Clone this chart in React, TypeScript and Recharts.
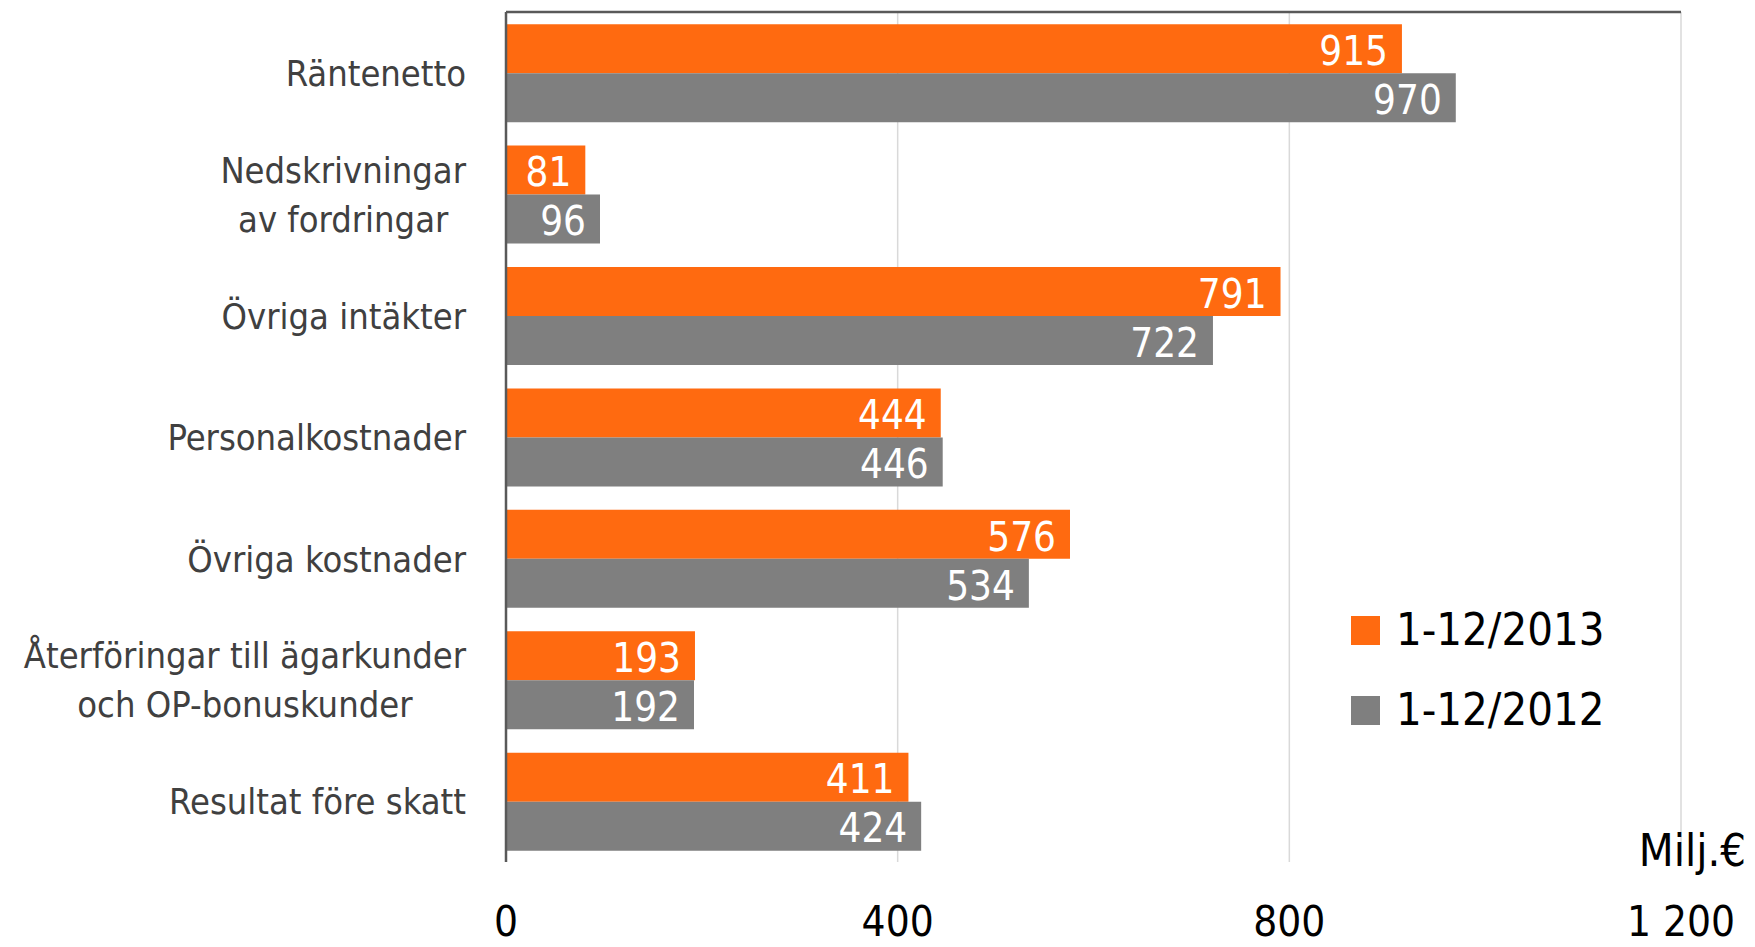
import React from 'react';
import { BarChart, Bar, XAxis, YAxis, CartesianGrid, LabelList, Legend, Label } from 'recharts';

const categories = [
  'Räntenetto',
  'Nedskrivningar\nav fordringar',
  'Övriga intäkter',
  'Personalkostnader',
  'Övriga kostnader',
  'Återföringar till ägarkunder\noch OP-bonuskunder',
  'Resultat före skatt',
];
const series2013 = [915, 81, 791, 444, 576, 193, 411];
const series2012 = [970, 96, 722, 446, 534, 192, 424];
const xTicks = [0, 400, 800, 1200];
const seriesNames = ['1-12/2013', '1-12/2012'];
const seriesColors = ['#FF6A10', '#7F7F7F'];
const unitLabel = 'Milj.€';

const data = categories.map((name, i) => ({
  name,
  y2013: series2013[i],
  y2012: series2012[i],
}));

const FONT = "'DejaVu Sans Condensed', 'Liberation Sans Narrow', 'DejaVu Sans', sans-serif";
const CAT_SIZE = 36;

let measureCtx: CanvasRenderingContext2D | null = null;
function measure(text: string): number {
  if (!measureCtx) {
    const c = document.createElement('canvas');
    measureCtx = c.getContext('2d');
  }
  if (!measureCtx) return text.length * CAT_SIZE * 0.5;
  measureCtx.font = `${CAT_SIZE}px ${FONT}`;
  return measureCtx.measureText(text).width;
}

const CategoryTick = (props: any) => {
  const { x, y, payload } = props;
  const lines: string[] = String(payload.value).split('\n');
  const lineH = 49;
  const cap = CAT_SIZE * 0.365;
  if (lines.length === 1) {
    return (
      <text x={x} y={y + cap} textAnchor="end" fill="#404040" fontSize={CAT_SIZE} fontFamily={FONT}>
        {lines[0]}
      </text>
    );
  }
  const widths = lines.map(measure);
  const maxW = Math.max(...widths);
  const cx = x - maxW / 2;
  const startY = y - ((lines.length - 1) * lineH) / 2 + cap;
  return (
    <g>
      {lines.map((l, i) => (
        <text key={i} x={cx} y={startY + i * lineH} textAnchor="middle" fill="#404040" fontSize={CAT_SIZE} fontFamily={FONT}>
          {l}
        </text>
      ))}
    </g>
  );
};

const fmt = (v: number) => String(v).replace(/\B(?=(\d{3})+(?!\d))/g, ' ');

const ValueTick = (props: any) => {
  const { x, y, payload } = props;
  return (
    <text x={x} y={y + 74} textAnchor="middle" fill="#000" fontSize={42} fontFamily={FONT}>
      {fmt(payload.value)}
    </text>
  );
};

const LegendContent = () => (
  <div>
    {seriesNames.map((n, i) => (
      <div key={n} style={{ display: 'flex', alignItems: 'center', height: 80 }}>
        <div style={{ width: 29, height: 29, background: seriesColors[i], marginRight: 16 }} />
        <span style={{ fontFamily: FONT, fontSize: 45, lineHeight: '80px', color: '#000' }}>{n}</span>
      </div>
    ))}
  </div>
);

export default function App() {
  return (
    <div style={{ position: 'absolute', left: 0, top: 0, width: 1755, height: 947, background: '#fff' }}>
      <BarChart
        width={1755}
        height={947}
        data={data}
        layout="vertical"
        margin={{ top: 10, right: 74, left: 0, bottom: 0 }}
        barCategoryGap="10%"
        barGap={0}
      >
        <CartesianGrid horizontal={false} vertical={true} stroke="#D9D9D9" strokeWidth={1.5} />
        <XAxis
          type="number"
          domain={[0, 1200]}
          ticks={xTicks}
          axisLine={false}
          tickLine={false}
          tickSize={0}
          tickMargin={0}
          height={85}
          tick={<ValueTick />}
          interval={0}
        >
          <Label
            content={(p: any) => {
              const vb = p.viewBox || {};
              return (
                <text x={vb.x + vb.width + 65} y={vb.y + 4} textAnchor="end" fill="#000" fontSize={45} fontFamily={FONT}>
                  {unitLabel}
                </text>
              );
            }}
          />
        </XAxis>
        <XAxis
          xAxisId="top"
          type="number"
          orientation="top"
          domain={[0, 1200]}
          ticks={xTicks}
          tick={false}
          tickLine={false}
          height={2}
          stroke="#595959"
          axisLine={{ stroke: '#595959', strokeWidth: 2.5 }}
        />
        <YAxis
          type="category"
          dataKey="name"
          width={506}
          tickLine={false}
          tickSize={0}
          tickMargin={40}
          axisLine={{ stroke: '#595959', strokeWidth: 2.5 }}
          tick={<CategoryTick />}
          interval={0}
        />
        <Legend
          layout="vertical"
          align="center"
          verticalAlign="middle"
          content={<LegendContent />}
          wrapperStyle={{ left: 1351, top: 590, width: 320 }}
        />
        <Bar dataKey="y2013" name={seriesNames[0]} fill={seriesColors[0]} isAnimationActive={false}>
          <LabelList dataKey="y2013" position="insideRight" offset={14} fill="#fff" fontSize={40} fontFamily={FONT} dy={2} />
        </Bar>
        <Bar xAxisId="top" dataKey="y2012" name={seriesNames[1]} fill={seriesColors[1]} isAnimationActive={false}>
          <LabelList dataKey="y2012" position="insideRight" offset={14} fill="#fff" fontSize={40} fontFamily={FONT} dy={2} />
        </Bar>
      </BarChart>
    </div>
  );
}
